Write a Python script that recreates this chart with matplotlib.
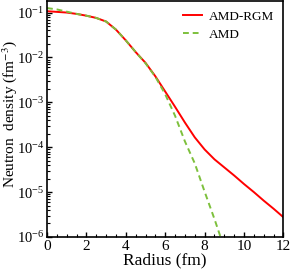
import numpy as np
import matplotlib
matplotlib.use("Agg")
import matplotlib.pyplot as plt
from matplotlib.ticker import LogLocator, MultipleLocator, NullFormatter

# radius (fm) and log10 of the neutron density
r_rgm = [0, 0.5, 1, 1.5, 2, 2.5, 3, 3.5, 4, 4.5, 5, 5.5, 6, 6.5, 7, 7.5,
         8, 8.5, 9, 9.5, 10, 10.5, 11, 11.5, 12]
logd_rgm = [-0.97, -0.985, -1.0, -1.03, -1.07, -1.12, -1.2, -1.38, -1.62,
            -1.88, -2.12, -2.42, -2.76, -3.10, -3.45, -3.78, -4.05, -4.27,
            -4.45, -4.63, -4.82, -5.0, -5.19, -5.37, -5.56]

r_amd = [0, 0.5, 1, 1.5, 2, 2.5, 3, 3.5, 4, 4.5, 5, 5.5, 6, 6.5, 7, 7.5,
         8, 8.5, 9]
logd_amd = [-0.90, -0.93, -0.98, -1.03, -1.07, -1.12, -1.2, -1.38, -1.62,
            -1.88, -2.13, -2.43, -2.82, -3.3, -3.87, -4.36, -4.99, -5.6, -6.25]

plt.rcParams['font.family'] = ['Liberation Serif', 'DejaVu Serif']
plt.rcParams['mathtext.fontset'] = 'stix'

fig = plt.figure(figsize=(2.91, 2.74), dpi=100)
ax = fig.add_axes([0.1615, 0.135, 0.8125, 0.861])

ax.plot(r_rgm, 10 ** np.array(logd_rgm), color='red', lw=1.4, label='AMD-RGM')
ax.plot(r_amd, 10 ** np.array(logd_amd), color='#7dc03c', lw=1.4,
        ls=(0, (3, 2)), label='AMD')

ax.set_yscale('log')
ax.set_xlim(0, 12)
ax.set_ylim(1e-6, 0.18)
ax.xaxis.set_major_locator(MultipleLocator(2))
ax.xaxis.set_minor_locator(MultipleLocator(0.5))
ax.yaxis.set_major_locator(LogLocator(base=10, numticks=10))
ax.yaxis.set_minor_locator(LogLocator(base=10, subs=np.arange(2, 10), numticks=10))
ax.yaxis.set_minor_formatter(NullFormatter())
ax.tick_params(which='both', direction='in', pad=2)
ax.tick_params(axis='x', labelsize=11)
ax.tick_params(axis='y', labelsize=10.5)
ax.tick_params(which='major', length=3.5, width=1)
ax.tick_params(which='minor', length=2, width=0.8)
for s in ax.spines.values():
    s.set_linewidth(1.2)

ax.set_xlabel('Radius (fm)', fontsize=12.5, labelpad=0)
ylab = ax.set_ylabel('Neutron  density (fm$^{-3}$)', fontsize=11)
ylab.set_va('center')
ax.yaxis.set_label_coords(-0.158, 0.52)

ax.legend(loc='upper right', frameon=False, fontsize=9.5, handlelength=1.5,
          borderaxespad=0.3, labelspacing=0.45, handletextpad=0.5)

fig.savefig('out.png', dpi=100)
